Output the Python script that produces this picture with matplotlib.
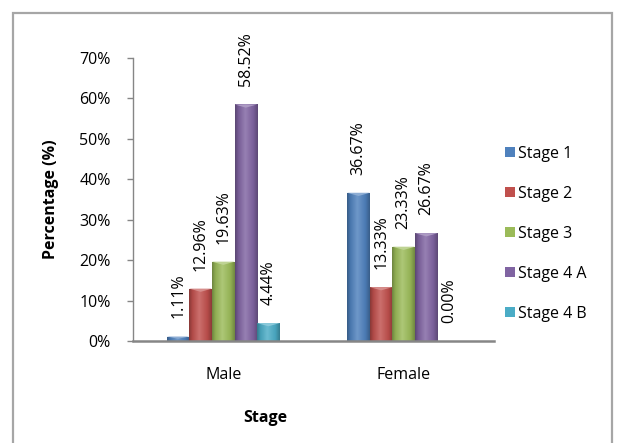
import numpy as np
import matplotlib
matplotlib.use("Agg")
import matplotlib.pyplot as plt
from matplotlib.colors import LinearSegmentedColormap, to_rgb
from matplotlib.patches import Rectangle, Polygon

plt.rcParams['font.family'] = ['Open Sans', 'DejaVu Sans']

categories = ["Male", "Female"]
series = ["Stage 1", "Stage 2", "Stage 3", "Stage 4 A", "Stage 4 B"]
stage1 = [1.11, 36.67]
stage2 = [12.96, 13.33]
stage3 = [19.63, 23.33]
stage4a = [58.52, 26.67]
stage4b = [4.44, 0.00]
values = [stage1, stage2, stage3, stage4a, stage4b]
colors = ["#4F81BD", "#C0504D", "#9BBB59", "#8064A2", "#4BACC6"]
yticks = [0, 10, 20, 30, 40, 50, 60, 70]
ytick_labels = ["0%", "10%", "20%", "30%", "40%", "50%", "60%", "70%"]

W, H = 617, 443
FS = 11.5
fig = plt.figure(figsize=(W / 100, H / 100), dpi=100)
fig.patch.set_facecolor("white")
ax = fig.add_axes([133 / W, 1 - 341 / H, (494 - 133) / W, (341 - 58) / H])

def shade(c, f):
    r = np.array(to_rgb(c))
    if f < 1:
        return tuple(r * f)
    return tuple(r + (1 - r) * (f - 1))

n = len(series)
group_w = 0.626
bw = group_w / n
x = np.arange(len(categories))
ax.set_xlim(-0.5, 1.5)
ax.set_ylim(0, 70)

grad = np.linspace(0, 1, 256).reshape(1, -1)
for i, (name, vals, col) in enumerate(zip(series, values, colors)):
    pos = x - group_w / 2 + bw * (i + 0.5)
    bars = ax.bar(pos, vals, width=bw, color=col, edgecolor="none", label=name, zorder=2)
    cmap = LinearSegmentedColormap.from_list(
        "g%d" % i,
        [(0.0, shade(col, 0.70)), (0.15, shade(col, 0.92)), (0.45, shade(col, 1.18)),
         (0.8, shade(col, 0.95)), (1.0, shade(col, 0.72))])
    for b, v, p in zip(bars, vals, pos):
        x0 = b.get_x()
        x1 = x0 + b.get_width()
        if v > 0:
            im = ax.imshow(grad, extent=[x0, x1, 0, v], aspect="auto", cmap=cmap,
                           zorder=2.1, interpolation="bilinear")
            im.set_clip_path(b)
            d = min(0.8, v * 0.5)
            tri = Polygon([[x0, v], [x1, v], [p, v - d]], closed=True,
                          facecolor=shade(col, 1.35), edgecolor="none", zorder=2.2)
            ax.add_patch(tri)
        ax.annotate("%.2f%%" % v, (p, v), xytext=(0, 13), textcoords="offset points",
                    rotation=90, ha="center", va="bottom", fontsize=FS, color="black",
                    zorder=3)

ax.set_xlim(-0.5, 1.5)
ax.set_ylim(0, 70)

for s in ["top", "right"]:
    ax.spines[s].set_visible(False)
ax.spines["left"].set_color("#868686")
ax.spines["left"].set_linewidth(1.0)
ax.spines["bottom"].set_color("#868686")
ax.spines["bottom"].set_linewidth(1.8)
ax.set_yticks(yticks)
ax.set_yticklabels(ytick_labels)
ax.tick_params(axis="y", length=4.5, width=1.0, color="#868686", pad=11.5, labelsize=FS)
ax.set_xticks(x)
ax.set_xticklabels(categories)
ax.tick_params(axis="x", length=0, pad=19, labelsize=FS)

ax.set_ylabel("Percentage (%)", fontsize=FS, fontweight="bold")
ax.yaxis.label.set_va("center")
ax.yaxis.set_label_coords((51 - 133) / (494 - 133), 0.5)
fig.text(265 / W, 1 - 418 / H, "Stage", ha="center", va="center", fontsize=FS,
         fontweight="bold")

leg = ax.legend(loc="upper left", bbox_to_anchor=(505 / W, 1 - 146 / H),
                bbox_transform=fig.transFigure, frameon=False, fontsize=FS,
                handlelength=0.6, handleheight=0.6, handletextpad=0.2,
                labelspacing=1.5, borderaxespad=0, borderpad=0)

fig.add_artist(Rectangle((13 / W, -0.1), (612 - 13) / W, 1.1 - 13 / H,
                         transform=fig.transFigure, fill=False,
                         edgecolor="#A6A6A6", linewidth=1.6))

fig.savefig("out.png", dpi=100)
